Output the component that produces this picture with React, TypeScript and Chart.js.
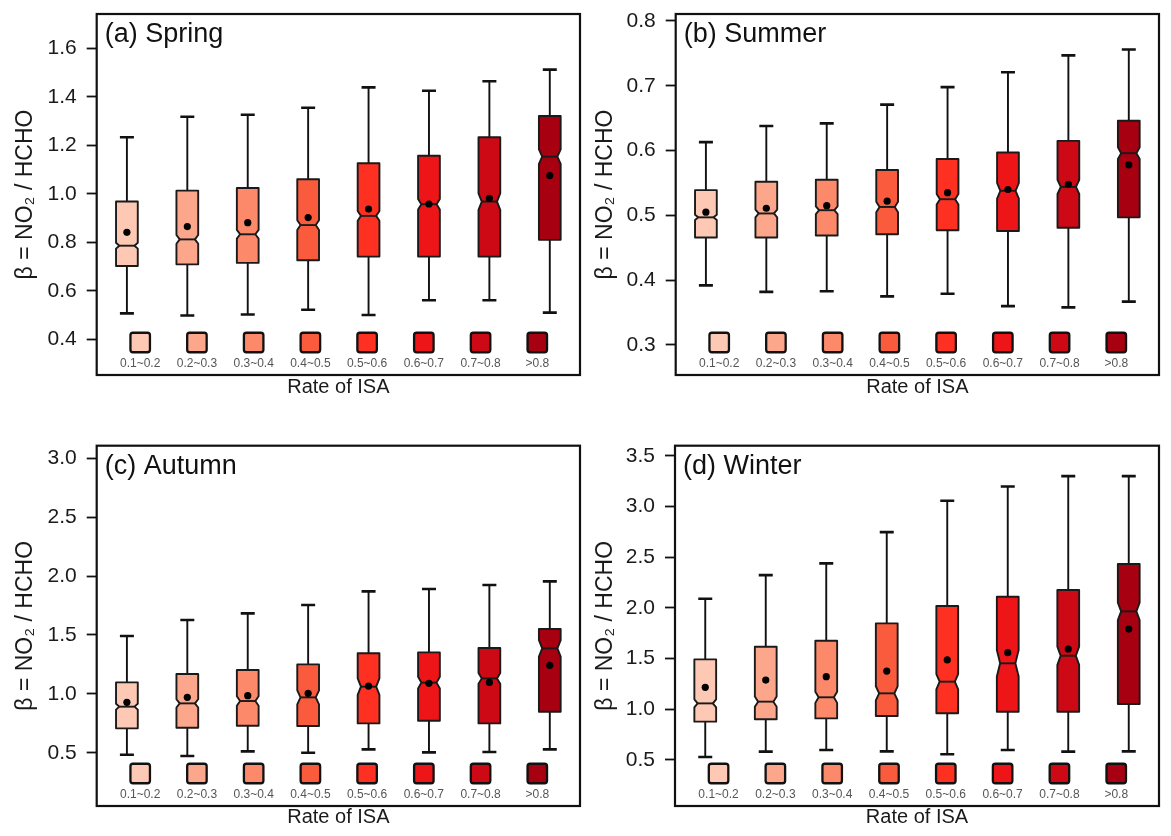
import React, { useEffect, useRef } from 'react';
import { Chart, registerables } from 'chart.js';

Chart.register(...registerables);

const FONT = "'Liberation Sans', Arial, Helvetica, sans-serif";

const categories = ['0.1~0.2', '0.2~0.3', '0.3~0.4', '0.4~0.5', '0.5~0.6', '0.6~0.7', '0.7~0.8', '>0.8'];
const boxColors = ['#fdc9b4', '#fca78b', '#fc8a6a', '#fb5b3d', '#fd3021', '#ee1519', '#cc0914', '#a60011'];

// (a) Spring
const springLow = [0.507, 0.498, 0.502, 0.522, 0.5, 0.561, 0.561, 0.51];
const springQ1 = [0.702, 0.709, 0.715, 0.726, 0.741, 0.741, 0.741, 0.81];
const springMedian = [0.786, 0.812, 0.833, 0.871, 0.909, 0.957, 0.968, 1.153];
const springQ3 = [0.968, 1.013, 1.024, 1.06, 1.126, 1.157, 1.233, 1.321];
const springHigh = [1.233, 1.318, 1.326, 1.355, 1.439, 1.425, 1.464, 1.512];
const springMean = [0.841, 0.865, 0.881, 0.902, 0.937, 0.958, 0.981, 1.075];
const springNotch = [0.012, 0.018, 0.018, 0.02, 0.02, 0.022, 0.034, 0.03];
const springTicks = [0.4, 0.6, 0.8, 1.0, 1.2, 1.4, 1.6];

// (b) Summer
const summerLow = [0.392, 0.382, 0.383, 0.375, 0.379, 0.36, 0.358, 0.367];
const summerQ1 = [0.466, 0.466, 0.469, 0.471, 0.477, 0.476, 0.481, 0.497];
const summerMedian = [0.497, 0.503, 0.508, 0.513, 0.525, 0.538, 0.544, 0.596];
const summerQ3 = [0.539, 0.552, 0.555, 0.57, 0.587, 0.597, 0.615, 0.646];
const summerHigh = [0.613, 0.638, 0.642, 0.671, 0.698, 0.721, 0.747, 0.756];
const summerMean = [0.505, 0.511, 0.515, 0.522, 0.535, 0.54, 0.548, 0.578];
const summerNotch = [0.004, 0.006, 0.006, 0.008, 0.008, 0.012, 0.011, 0.009];
const summerTicks = [0.3, 0.4, 0.5, 0.6, 0.7, 0.8];

// (c) Autumn
const autumnLow = [0.483, 0.472, 0.511, 0.5, 0.528, 0.503, 0.506, 0.528];
const autumnQ1 = [0.707, 0.712, 0.729, 0.727, 0.749, 0.772, 0.749, 0.848];
const autumnMedian = [0.891, 0.919, 0.939, 0.97, 1.061, 1.095, 1.131, 1.386];
const autumnQ3 = [1.097, 1.168, 1.202, 1.25, 1.344, 1.352, 1.389, 1.55];
const autumnHigh = [1.491, 1.627, 1.683, 1.754, 1.87, 1.89, 1.924, 1.955];
const autumnMean = [0.928, 0.97, 0.984, 1.004, 1.066, 1.089, 1.097, 1.242];
const autumnNotch = [0.025, 0.035, 0.04, 0.06, 0.07, 0.05, 0.045, 0.07];
const autumnTicks = [0.5, 1.0, 1.5, 2.0, 2.5, 3.0];

// (d) Winter
const winterLow = [0.529, 0.582, 0.598, 0.585, 0.556, 0.598, 0.582, 0.585];
const winterQ1 = [0.878, 0.901, 0.91, 0.933, 0.96, 0.976, 0.976, 1.052];
const winterMedian = [1.058, 1.075, 1.118, 1.157, 1.272, 1.453, 1.528, 1.965];
const winterQ3 = [1.492, 1.617, 1.676, 1.847, 2.018, 2.11, 2.176, 2.432];
const winterHigh = [2.09, 2.323, 2.439, 2.747, 3.056, 3.197, 3.299, 3.299];
const winterMean = [1.216, 1.288, 1.321, 1.377, 1.486, 1.558, 1.594, 1.791];
const winterNotch = [0.04, 0.05, 0.055, 0.07, 0.075, 0.13, 0.09, 0.085];
const winterTicks = [0.5, 1.0, 1.5, 2.0, 2.5, 3.0, 3.5];

type PanelSpec = {
  title: string;
  low: number[]; q1: number[]; median: number[]; q3: number[]; high: number[]; mean: number[]; notch: number[];
  ticks: number[]; yMin: number; yMax: number;
  left: number; top: number; width: number; height: number;
  padTop: number; padRight: number; padBottom: number; yWidth: number; xHeight: number; yTitlePad: number;
};

const panels: PanelSpec[] = [
  { title: '(a) Spring', low: springLow, q1: springQ1, median: springMedian, q3: springQ3, high: springHigh, mean: springMean, notch: springNotch,
    ticks: springTicks, yMin: 0.2528, yMax: 1.7414,
    left: 0, top: 0, width: 585, height: 410, padTop: 14, padRight: 5, padBottom: 11, yWidth: 96.7, xHeight: 24, yTitlePad: 12 },
  { title: '(b) Summer', low: summerLow, q1: summerQ1, median: summerMedian, q3: summerQ3, high: summerHigh, mean: summerMean, notch: summerNotch,
    ticks: summerTicks, yMin: 0.2537, yMax: 0.8108,
    left: 585, top: 0, width: 586, height: 410, padTop: 14, padRight: 12, padBottom: 11, yWidth: 90.7, xHeight: 24, yTitlePad: 7 },
  { title: '(c) Autumn', low: autumnLow, q1: autumnQ1, median: autumnMedian, q3: autumnQ3, high: autumnHigh, mean: autumnMean, notch: autumnNotch,
    ticks: autumnTicks, yMin: 0.0475, yMax: 3.107,
    left: 0, top: 410, width: 585, height: 426, padTop: 35.7, padRight: 5, padBottom: 7, yWidth: 96.7, xHeight: 23, yTitlePad: 12 },
  { title: '(d) Winter', low: winterLow, q1: winterQ1, median: winterMedian, q3: winterQ3, high: winterHigh, mean: winterMean, notch: winterNotch,
    ticks: winterTicks, yMin: 0.046, yMax: 3.599,
    left: 585, top: 410, width: 586, height: 426, padTop: 35.7, padRight: 12, padBottom: 7, yWidth: 90, xHeight: 23, yTitlePad: 7 },
];

function Panel({ spec }: { spec: PanelSpec }) {
  const ref = useRef<HTMLCanvasElement | null>(null);

  useEffect(() => {
    const canvas = ref.current;
    if (!canvas) return;

    const boxPlugin = {
      id: 'notchedBoxes',
      afterDatasetDraw(chart: any, args: any) {
        if (args.meta.type !== 'bar') return;
        const ctx = chart.ctx;
        const y = chart.scales.y;
        args.meta.data.forEach((el: any, i: number) => {
          const { x, width } = el.getProps(['x', 'width'], true);
          const l = x - width / 2;
          const r = x + width / 2;
          const pLo = y.getPixelForValue(spec.low[i]);
          const pHi = y.getPixelForValue(spec.high[i]);
          const pQ1 = y.getPixelForValue(spec.q1[i]);
          const pQ3 = y.getPixelForValue(spec.q3[i]);
          const pMed = y.getPixelForValue(spec.median[i]);
          const pNUp = y.getPixelForValue(spec.median[i] + spec.notch[i]);
          const pNDn = y.getPixelForValue(spec.median[i] - spec.notch[i]);
          const ind = width * 0.15;
          const cap = 7;
          ctx.save();
          // whiskers
          ctx.strokeStyle = '#111';
          ctx.lineWidth = 1.9;
          ctx.beginPath();
          ctx.moveTo(x, pQ3); ctx.lineTo(x, pHi);
          ctx.moveTo(x, pQ1); ctx.lineTo(x, pLo);
          ctx.stroke();
          ctx.lineWidth = 2.6;
          ctx.beginPath();
          ctx.moveTo(x - cap, pHi); ctx.lineTo(x + cap, pHi);
          ctx.moveTo(x - cap, pLo); ctx.lineTo(x + cap, pLo);
          ctx.stroke();
          // notched box
          ctx.beginPath();
          ctx.moveTo(l, pQ1);
          ctx.lineTo(l, pNDn);
          ctx.lineTo(l + ind, pMed);
          ctx.lineTo(l, pNUp);
          ctx.lineTo(l, pQ3);
          ctx.lineTo(r, pQ3);
          ctx.lineTo(r, pNUp);
          ctx.lineTo(r - ind, pMed);
          ctx.lineTo(r, pNDn);
          ctx.lineTo(r, pQ1);
          ctx.closePath();
          ctx.fillStyle = boxColors[i];
          ctx.fill();
          ctx.lineJoin = 'round';
          ctx.strokeStyle = '#1a1a1a';
          ctx.lineWidth = 1.9;
          ctx.stroke();
          // median
          ctx.beginPath();
          ctx.moveTo(l + ind, pMed);
          ctx.lineTo(r - ind, pMed);
          ctx.stroke();
          ctx.restore();
        });
      },
      afterDraw(chart: any) {
        const ctx = chart.ctx;
        const a = chart.chartArea;
        const xs = chart.scales.x;
        ctx.save();
        // legend squares and labels
        categories.forEach((c, i) => {
          const cx = xs.getPixelForValue(0.22 + i * 0.939);
          const cy = a.bottom - 32.5;
          const s = 19.5;
          ctx.beginPath();
          if (ctx.roundRect) ctx.roundRect(cx - s / 2, cy - s / 2, s, s, 2.5);
          else ctx.rect(cx - s / 2, cy - s / 2, s, s);
          ctx.fillStyle = boxColors[i];
          ctx.fill();
          ctx.strokeStyle = '#111';
          ctx.lineWidth = 2.3;
          ctx.stroke();
          ctx.fillStyle = '#555';
          ctx.font = `12px ${FONT}`;
          ctx.textAlign = 'center';
          ctx.textBaseline = 'middle';
          ctx.fillText(c, cx, a.bottom - 11);
        });
        // panel title
        ctx.fillStyle = '#111';
        ctx.font = `27px ${FONT}`;
        ctx.textAlign = 'left';
        ctx.textBaseline = 'middle';
        ctx.fillText(spec.title, a.left + 8, a.top + 21);
        // frame
        ctx.strokeStyle = '#111';
        ctx.lineWidth = 2.2;
        ctx.strokeRect(a.left, a.top, a.right - a.left, a.bottom - a.top);
        ctx.restore();
      },
    };

    const chart = new Chart(canvas, {
      type: 'bar',
      data: {
        labels: categories,
        datasets: [
          {
            type: 'bar',
            label: 'IQR',
            data: spec.q1.map((v, i) => [v, spec.q3[i]]),
            backgroundColor: 'rgba(0,0,0,0)',
            borderWidth: 0,
            barPercentage: 0.36,
            categoryPercentage: 1,
            order: 2,
          } as any,
          {
            type: 'line',
            label: 'Mean',
            data: spec.mean,
            showLine: false,
            pointRadius: 3.6,
            pointBackgroundColor: '#000',
            pointBorderColor: '#000',
            pointBorderWidth: 0,
            order: 1,
          } as any,
        ],
      },
      options: {
        animation: false,
        responsive: false,
        devicePixelRatio: 1,
        events: [],
        layout: { padding: { top: spec.padTop, right: spec.padRight, bottom: spec.padBottom, left: 0 } },
        plugins: { legend: { display: false }, tooltip: { enabled: false }, title: { display: false } },
        scales: {
          x: {
            type: 'category',
            offset: true,
            grid: { display: false },
            border: { display: false },
            ticks: { display: false },
            title: { display: true, text: 'Rate of ISA', color: '#1a1a1a', font: { family: FONT, size: 20 }, padding: 0 },
            afterFit: (s: any) => { s.height = spec.xHeight; s.paddingLeft = 0; s.paddingRight = 0; },
          },
          y: {
            type: 'linear',
            min: spec.yMin,
            max: spec.yMax,
            border: { display: false },
            grid: { drawOnChartArea: false, drawTicks: true, tickLength: 10, tickWidth: 1.8, tickColor: '#111' },
            ticks: {
              color: '#1a1a1a',
              font: { family: FONT, size: 21 },
              padding: 10,
              callback: (v: any) => Number(v).toFixed(1),
            },
            afterBuildTicks: (s: any) => { s.ticks = spec.ticks.map((v) => ({ value: v })); },
            title: { display: true, text: 'β = NO₂ / HCHO', color: '#1a1a1a', font: { family: FONT, size: 23 }, padding: { top: spec.yTitlePad, bottom: 0 } },
            afterFit: (s: any) => { s.width = spec.yWidth; s.paddingTop = 0; s.paddingBottom = 0; },
          },
        },
      },
      plugins: [boxPlugin],
    } as any);

    return () => chart.destroy();
  }, [spec]);

  return (
    <canvas
      ref={ref}
      width={spec.width}
      height={spec.height}
      style={{ position: 'absolute', left: spec.left, top: spec.top, width: spec.width, height: spec.height, display: 'block' }}
    />
  );
}

export default function App() {
  return (
    <div style={{ position: 'absolute', left: 0, top: 0, width: 1171, height: 836, background: '#fff', overflow: 'hidden' }}>
      {panels.map((p) => (
        <Panel key={p.title} spec={p} />
      ))}
    </div>
  );
}
